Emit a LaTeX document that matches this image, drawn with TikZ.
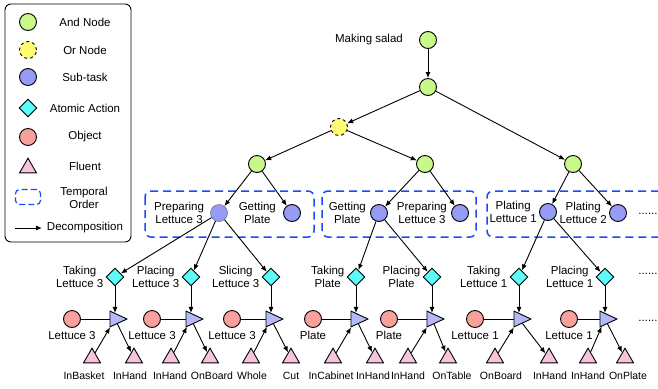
\documentclass[tikz,border=0pt]{standalone}
\usepackage{fontspec}
\setmainfont{Liberation Sans}
\usetikzlibrary{shapes.geometric, positioning, arrows.meta}

\definecolor{andgreen}{RGB}{200,248,138}
\definecolor{oryellow}{RGB}{255,252,115}
\definecolor{taskblue}{RGB}{150,155,245}
\definecolor{actioncyan}{RGB}{92,250,248}
\definecolor{objectred}{RGB}{248,160,155}
\definecolor{fluentpink}{RGB}{248,195,220}
\definecolor{changeblue}{RGB}{180,185,248}
\definecolor{orderblue}{RGB}{25,75,250}

\begin{document}
\begin{tikzpicture}[x=1pt, y=-1pt,
        every node/.style={font=\fontsize{11.5}{13}\selectfont, align=center, inner sep=1pt},
        dot/.style={circle, draw, line width=0.9pt, minimum size=17pt, inner sep=0pt},
        andnode/.style={dot, fill=andgreen},
        ornode/.style={dot, fill=oryellow, dashed},
        subtask/.style={dot, fill=taskblue},
        object/.style={dot, fill=objectred},
        action/.style={diamond, draw, line width=0.9pt, fill=actioncyan, minimum size=18pt, inner sep=0pt},
        change/.style={isosceles triangle, isosceles triangle apex angle=50, draw, line width=0.9pt, fill=changeblue, minimum height=17pt, inner sep=0pt},
        fluent/.style={regular polygon, regular polygon sides=3, draw, line width=0.9pt, fill=fluentpink, minimum size=19.6pt, inner sep=0pt},
        order/.style={draw=orderblue, line width=1.5pt, dash pattern=on 8pt off 5pt, rounded corners=6pt},
        arrow/.style={-{Latex[length=6pt, width=5pt]}, line width=0.9pt},
        small/.style={font=\fontsize{10.5}{12}\selectfont}
    ]
    \useasboundingbox (0,0) rectangle (658,388);

    % Legend
    \draw[rounded corners=6pt, line width=0.9pt] (5,4) rectangle (131,242);
    \node[andnode] (legand) at (28,22) {};
    \node (legandtxt) at (85,22) {And Node};
    \node[ornode] (legor) at (28,50) {};
    \node (legortxt) at (85,50) {Or Node};
    \node[subtask] (legtask) at (28,77) {};
    \node (legtasktxt) at (85,77) {Sub-task};
    \node[action] (legaction) at (28,108) {};
    \node (legactiontxt) at (85,108) {Atomic Action};
    \node[object] (legobject) at (28,137) {};
    \node (legobjecttxt) at (85,137) {Object};
    \node[fluent] (legfluent) at (28,168) {};
    \node (legfluenttxt) at (85,166) {Fluent};
    \node[order, line width=1.2pt, dash pattern=on 6pt off 3pt, rounded corners=4pt, minimum width=25pt, minimum height=15pt] (legorder) at (28,197) {};
    \node (legordertxt) at (84,198) {Temporal\\Order};
    \coordinate (legarrfrom) at (15,228);
    \coordinate (legarrto) at (42,228);
    \draw[arrow] (legarrfrom) -- (legarrto);
    \node (legarrtxt) at (85,228) {Decomposition};

    % Temporal order boxes
    \draw[order] (145,191) rectangle (314,237);
    \draw[order] (322,191) rectangle (476,237);
    \draw[order] (659,191) -| (487,237) -- (659,237);

    % Nodes
    \node[andnode] (salad) at (428,40) {};
    \node[left=15pt of salad] (saladtxt) {Making salad};
    \node[andnode] (top) at (428,87) {};
    \node[ornode] (choice) at (339,127) {};
    \node[andnode] (seq1) at (257,164) {};
    \node[andnode] (seq2) at (425,164) {};
    \node[andnode] (seq3) at (573,164) {};

    \node[subtask, draw=black!55, line width=0.6pt] (prep1) at (219,213) {};
    \node[left=5pt of prep1] (prep1txt) {Preparing\\Lettuce 3};
    \node[subtask] (plate1) at (292,213) {};
    \node[left=6pt of plate1] (plate1txt) {Getting\\Plate};
    \node[subtask] (plate2) at (379,213) {};
    \node[left=3pt of plate2] (plate2txt) {Getting\\Plate};
    \node[subtask] (prep2) at (460,213) {};
    \node[left=3pt of prep2] (prep2txt) {Preparing\\Lettuce 3};
    \node[subtask] (plating1) at (548,212) {};
    \node[left=1pt of plating1] (plating1txt) {Plating\\Lettuce 1};
    \node[subtask] (plating2) at (618,213) {};
    \node[left=1pt of plating2] (plating2txt) {Plating\\Lettuce 2};
    \node (more1) at (648,214) {......};

    % Arrows
    \draw[arrow] (salad) -- (top);
    \draw[arrow] (top) -- (choice);
    \draw[arrow] (top) -- (seq3);
    \draw[arrow] (choice) -- (seq1);
    \draw[arrow] (choice) -- (seq2);
    \draw[arrow] (seq1) -- (prep1);
    \draw[arrow] (seq1) -- (plate1);
    \draw[arrow] (seq2) -- (plate2);
    \draw[arrow] (seq2) -- (prep2);
    \draw[arrow] (seq3) -- (plating1);
    \draw[arrow] (seq3) -- (plating2);

    % Atomic actions with their objects and fluents
    \foreach \i/\x/\ox/\fa/\fb/\la/\lb/\obj/\fla/\flb/\act/\up in {
        1/115/72/92/134/84/130/Lettuce 3/InBasket/InHand/{Taking\\Lettuce 3}/prep1,
        2/191/152/171/210/170/212/Lettuce 3/InHand/OnBoard/{Placing\\Lettuce 3}/prep1,
        3/271/232/251/291/252/291/Lettuce 3/Whole/Cut/{Slicing\\Lettuce 3}/prep1,
        4/356/313/333/375/331/373/Plate/InCabinet/InHand/{Taking\\Plate}/plate2,
        5/432/389/408/448/408/452/Plate/InHand/OnTable/{Placing\\Plate}/plate2,
        6/519/475/495/549/501/550/Lettuce 1/OnBoard/InHand/{Taking\\Lettuce 1}/plating1,
        7/605/569/588/625/588/628/Lettuce 1/InHand/OnPlate/{Placing\\Lettuce 1}/plating1}
    {
        \node[action] (act\i) at (\x,277) {};
        \node[left=1pt of act\i] (acttxt\i) {\act};
        \node[change] (chg\i) at (\x,319) {};
        \node[object] (obj\i) at (\ox,319) {};
        \node[below=2pt of obj\i] (objtxt\i) {\obj};
        \node[fluent] (pre\i) at (\fa,358) {};
        \node[fluent] (post\i) at (\fb,358) {};
        \node[small] (pretxt\i) at (\la,376) {\fla};
        \node[small] (posttxt\i) at (\lb,376) {\flb};
        \draw[arrow] (\up) -- (act\i);
        \draw[arrow] (act\i) -- (chg\i);
        \draw[line width=0.9pt] (obj\i) -- (chg\i);
        \draw[arrow] (pre\i) -- (chg\i);
        \draw[arrow] (chg\i) -- (post\i);
    }
    \node (more2) at (648,274) {......};
    \node (more3) at (648,321) {......};

\end{tikzpicture}
\end{document}
